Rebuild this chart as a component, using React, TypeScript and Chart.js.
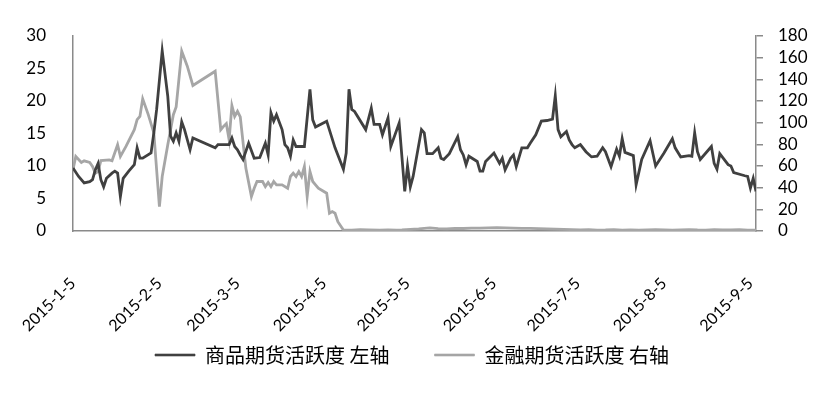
import React, { useEffect, useRef } from 'react';
import { Chart, registerables } from 'chart.js';

Chart.register(...registerables);

const commodityLabel = '商品期货活跃度 左轴';
const financialLabel = '金融期货活跃度 右轴';

const commodityDates = [
  '2015-01-05','2015-01-07','2015-01-09','2015-01-11','2015-01-12','2015-01-13','2015-01-14','2015-01-15','2015-01-16','2015-01-17',
  '2015-01-19','2015-01-20','2015-01-21','2015-01-22','2015-01-23','2015-01-25','2015-01-27','2015-01-28','2015-01-29','2015-01-30',
  '2015-02-02','2015-02-03','2015-02-04','2015-02-06','2015-02-08','2015-02-09','2015-02-10','2015-02-11','2015-02-12','2015-02-13',
  '2015-02-14','2015-02-16','2015-02-17','2015-02-25','2015-02-26','2015-03-02','2015-03-03','2015-03-04','2015-03-05','2015-03-06',
  '2015-03-07','2015-03-09','2015-03-11','2015-03-13','2015-03-15','2015-03-16','2015-03-17','2015-03-18','2015-03-19','2015-03-21',
  '2015-03-22','2015-03-23','2015-03-24','2015-03-25','2015-03-26','2015-03-29','2015-03-31','2015-04-01','2015-04-02','2015-04-06',
  '2015-04-09','2015-04-12','2015-04-13','2015-04-14','2015-04-15','2015-04-16','2015-04-20','2015-04-22','2015-04-23','2015-04-25',
  '2015-04-26','2015-04-28','2015-04-29','2015-05-02','2015-05-04','2015-05-05','2015-05-06','2015-05-07','2015-05-10','2015-05-11',
  '2015-05-12','2015-05-14','2015-05-16','2015-05-17','2015-05-18','2015-05-20','2015-05-23','2015-05-24','2015-05-25','2015-05-26',
  '2015-05-27','2015-05-30','2015-05-31','2015-06-01','2015-06-02','2015-06-05','2015-06-07','2015-06-08','2015-06-09','2015-06-11',
  '2015-06-12','2015-06-13','2015-06-15','2015-06-17','2015-06-18','2015-06-20','2015-06-22','2015-06-24','2015-06-26','2015-06-27',
  '2015-06-28','2015-06-29','2015-07-01','2015-07-02','2015-07-03','2015-07-04','2015-07-06','2015-07-08','2015-07-10','2015-07-12',
  '2015-07-14','2015-07-15','2015-07-17','2015-07-19','2015-07-20','2015-07-21','2015-07-22','2015-07-25','2015-07-26','2015-07-28',
  '2015-07-31','2015-08-02','2015-08-05','2015-08-08','2015-08-09','2015-08-11','2015-08-14','2015-08-15','2015-08-16','2015-08-17',
  '2015-08-18','2015-08-22','2015-08-23','2015-08-24','2015-08-25','2015-08-28','2015-08-29','2015-08-30','2015-09-03','2015-09-04',
  '2015-09-05','2015-09-06','2015-09-07',
];

const commodityValues = [
  9.7, 8.4, 7.4, 7.6, 7.9, 9.4, 10.4, 7.9, 6.8, 8.1,
  8.9, 9.2, 8.9, 5.3, 8.1, 9.2, 10.2, 12.8, 11.2, 11.2,
  12.0, 15.1, 18.7, 27.7, 20.7, 14.6, 13.8, 15.1, 13.8, 16.8,
  15.6, 12.5, 14.3, 12.8, 13.3, 13.3, 14.3, 13.0, 12.5, 11.7,
  11.0, 13.5, 11.2, 11.3, 13.5, 11.7, 18.2, 16.9, 17.9, 15.6,
  13.3, 12.8, 11.5, 14.0, 13.0, 13.0, 21.8, 17.1, 16.0, 16.9,
  12.8, 9.5, 12.0, 21.8, 18.7, 18.4, 15.6, 18.9, 16.4, 16.4,
  14.8, 17.4, 13.0, 16.6, 6.1, 10.0, 6.8, 8.4, 15.6, 15.1,
  11.9, 11.9, 12.8, 11.2, 11.0, 11.9, 14.5, 12.5, 11.7, 10.2,
  11.5, 10.7, 9.2, 9.2, 10.7, 12.0, 10.4, 11.2, 9.4, 11.2,
  11.7, 9.9, 12.8, 12.8, 13.5, 14.8, 16.9, 17.0, 17.2, 20.8,
  15.6, 14.5, 15.3, 14.0, 13.3, 12.8, 13.3, 12.2, 11.4, 11.5,
  12.8, 12.2, 9.9, 12.6, 11.5, 14.2, 12.1, 11.6, 7.1, 11.0,
  13.9, 10.0, 12.0, 14.2, 12.8, 11.4, 11.6, 11.5, 15.1, 12.2,
  11.0, 13.0, 10.4, 9.5, 11.9, 10.2, 10.0, 9.0, 8.5, 8.4,
  6.6, 8.1, 6.1,
];

const financialDates = [
  '2015-01-05','2015-01-06','2015-01-08','2015-01-09','2015-01-11','2015-01-12','2015-01-13','2015-01-14','2015-01-15','2015-01-18',
  '2015-01-19','2015-01-21','2015-01-22','2015-01-24','2015-01-27','2015-01-28','2015-01-29','2015-01-30','2015-02-01','2015-02-03',
  '2015-02-05','2015-02-06','2015-02-08','2015-02-10','2015-02-11','2015-02-13','2015-02-15','2015-02-17','2015-02-25','2015-02-27',
  '2015-02-28','2015-03-01','2015-03-02','2015-03-03','2015-03-04','2015-03-05','2015-03-06','2015-03-08','2015-03-10','2015-03-11',
  '2015-03-12','2015-03-14','2015-03-15','2015-03-16','2015-03-17','2015-03-18','2015-03-19','2015-03-21','2015-03-23','2015-03-24',
  '2015-03-25','2015-03-26','2015-03-27','2015-03-28','2015-03-29','2015-03-30','2015-03-31','2015-04-01','2015-04-02','2015-04-03',
  '2015-04-06','2015-04-07','2015-04-08','2015-04-09','2015-04-10','2015-04-12','2015-04-15','2015-04-18','2015-04-21','2015-04-25',
  '2015-04-28','2015-05-01','2015-05-03','2015-05-06','2015-05-09','2015-05-11','2015-05-13','2015-05-16','2015-05-19','2015-05-22',
  '2015-05-25','2015-05-28','2015-05-31','2015-06-03','2015-06-06','2015-06-09','2015-06-12','2015-06-15','2015-06-18','2015-06-21',
  '2015-06-24','2015-06-27','2015-06-30','2015-07-03','2015-07-06','2015-07-09','2015-07-12','2015-07-15','2015-07-18','2015-07-21',
  '2015-07-24','2015-07-27','2015-07-30','2015-08-02','2015-08-05','2015-08-08','2015-08-11','2015-08-14','2015-08-17','2015-08-20',
  '2015-08-23','2015-08-26','2015-08-29','2015-09-01','2015-09-04','2015-09-07',
];

const financialValues = [
  56.5, 68.8, 63.2, 64.8, 63.2, 59.5, 53.4, 54.9, 65.0, 65.7,
  64.8, 79.6, 68.8, 78.1, 93.5, 102.8, 105.8, 122.0, 107.4, 90.5,
  22.5, 50.3, 79.6, 107.4, 114.5, 166.0, 152.1, 134.3, 147.5, 93.5,
  96.6, 99.1, 84.3, 115.8, 105.8, 110.5, 105.3, 58.1, 31.8, 39.5,
  45.7, 45.7, 41.0, 44.7, 41.0, 45.7, 42.6, 42.6, 39.5, 50.3,
  53.4, 50.3, 54.9, 50.3, 59.5, 31.8, 54.9, 45.7, 42.6, 39.5,
  34.9, 16.4, 17.9, 16.4, 8.6, 0.9, 0.8, 1.2, 1.0, 0.9,
  1.1, 0.8, 1.0, 1.5, 2.0, 2.5, 2.8, 2.2, 2.0, 2.5,
  2.3, 2.7, 2.6, 2.8, 3.0, 2.8, 2.6, 2.4, 2.5, 2.2,
  2.0, 1.8, 1.5, 1.2, 1.0, 1.2, 0.9, 1.0, 1.3, 0.9,
  1.1, 0.8, 1.0, 1.2, 1.0, 0.9, 1.1, 1.3, 1.0, 0.9,
  1.2, 1.0, 1.1, 1.3, 0.9, 0.8,
];

const tickDates = ['2015-01-05','2015-02-05','2015-03-05','2015-04-05','2015-05-05','2015-06-05','2015-07-05','2015-08-05','2015-09-05'];
const tickLabels = ['2015-1-5','2015-2-5','2015-3-5','2015-4-5','2015-5-5','2015-6-5','2015-7-5','2015-8-5','2015-9-5'];
const axisStartDate = '2015-01-05';
const axisEndDate = '2015-09-07';

const DAY_MS = 86400000;
const toUTC = (s: string) => {
  const [y, m, d] = s.split('-').map(Number);
  return Date.UTC(y, m - 1, d);
};
const dayOf = (s: string) => (toUTC(s) - toUTC(axisStartDate)) / DAY_MS;

const NUM_FONT = 'Lato, "Liberation Sans", sans-serif';
const CJK_FONT = '"Noto Sans CJK SC", sans-serif';
const AXIS_GREY = '#8a8a8a';

export default function App() {
  const canvasRef = useRef<HTMLCanvasElement | null>(null);

  useEffect(() => {
    const canvas = canvasRef.current;
    if (!canvas) return;
    const tickDays = tickDates.map(dayOf);

    const chart = new Chart(canvas, {
      type: 'line',
      data: {
        datasets: [
          {
            label: commodityLabel,
            data: commodityDates.map((d, i) => ({ x: dayOf(d), y: commodityValues[i] })),
            borderColor: '#404040',
            backgroundColor: '#404040',
            borderWidth: 2.8,
            pointRadius: 0,
            tension: 0,
            yAxisID: 'yLeft',
          },
          {
            label: financialLabel,
            data: financialDates.map((d, i) => ({ x: dayOf(d), y: financialValues[i] })),
            borderColor: '#a6a6a6',
            backgroundColor: '#a6a6a6',
            borderWidth: 2.8,
            pointRadius: 0,
            tension: 0,
            yAxisID: 'yRight',
          },
        ],
      },
      options: {
        responsive: false,
        animation: false,
        events: [],
        layout: { padding: { top: 36, left: 0, right: 0, bottom: 18 } },
        plugins: {
          tooltip: { enabled: false },
          legend: {
            position: 'bottom',
            labels: {
              boxWidth: 40,
              boxHeight: 2,
              padding: 45,
              color: '#000',
              font: { family: CJK_FONT, size: 20 },
              generateLabels: (c: any) =>
                Chart.defaults.plugins.legend.labels.generateLabels(c).map((l: any) => ({ ...l, lineWidth: 0.6 })),
            },
          },
        },
        scales: {
          x: {
            type: 'linear',
            min: dayOf(axisStartDate),
            max: dayOf(axisEndDate),
            afterBuildTicks: (scale: any) => {
              scale.ticks = tickDays.map((v) => ({ value: v }));
            },
            afterFit: (scale: any) => {
              scale.height = 69;
              scale.paddingLeft = 0;
              scale.paddingRight = 0;
              // rotated labels reach into the legend band; do not clip them to the axis box
              scale._computeLabelArea = () => undefined;
            },
            grid: { display: false },
            border: { display: true, color: AXIS_GREY, width: 1.5 },
            ticks: {
              autoSkip: false,
              maxRotation: 45,
              minRotation: 45,
              padding: 35,
              color: '#000',
              font: { family: NUM_FONT, size: 16 },
              callback: (value: any) => {
                const idx = tickDays.indexOf(Number(value));
                return idx >= 0 ? tickLabels[idx] : '';
              },
            },
          },
          yLeft: {
            type: 'linear',
            position: 'left',
            min: 0,
            max: 30,
            afterFit: (scale: any) => {
              scale.width = 73;
            },
            grid: { display: false },
            border: { display: true, color: AXIS_GREY, width: 1.5 },
            ticks: {
              stepSize: 5,
              autoSkip: false,
              padding: 19,
              color: '#000',
              font: { family: NUM_FONT, size: 17 },
            },
          },
          yRight: {
            type: 'linear',
            position: 'right',
            min: 0,
            max: 180,
            afterFit: (scale: any) => {
              scale.width = 68;
            },
            grid: {
              display: true,
              drawOnChartArea: false,
              drawTicks: true,
              tickLength: 7,
              color: AXIS_GREY,
              lineWidth: 1.5,
            },
            border: { display: true, color: AXIS_GREY, width: 1.5 },
            ticks: {
              stepSize: 20,
              autoSkip: false,
              padding: 15,
              color: '#000',
              font: { family: NUM_FONT, size: 17 },
            },
          },
        },
      },
    } as any);

    return () => chart.destroy();
  }, []);

  return (
    <div style={{ position: 'fixed', left: 0, top: 0, width: 824, height: 393, background: '#fff' }}>
      <canvas ref={canvasRef} width={824} height={393} style={{ display: 'block' }} />
    </div>
  );
}
